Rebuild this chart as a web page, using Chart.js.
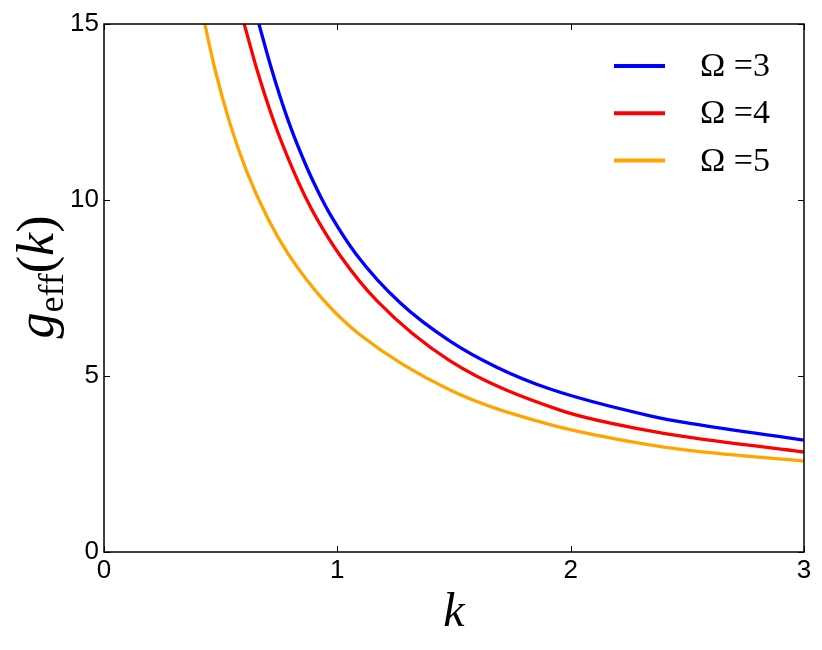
<!DOCTYPE html>
<html>
<head>
<meta charset="utf-8">
<script src="https://cdn.jsdelivr.net/npm/chart.js@4.4.1/dist/chart.umd.min.js"></script>
<style>
  html, body { margin: 0; padding: 0; background: #fff; }
</style>
</head>
<body>
<canvas id="myChart" width="822" height="650"></canvas>
<script>
// values: k on x, g_eff(k) on y
const kOmega3 = [0.664, 0.719, 0.786, 0.869, 0.926, 0.973, 1.083, 1.269, 1.483, 1.683, 1.912, 2.340, 2.526, 3.0];
const gOmega3 = [15, 13.70, 12.32, 10.93, 10.13, 9.55, 8.44, 7.08, 5.99, 5.25, 4.63, 3.87, 3.64, 3.18];

const kOmega4 = [0.601, 0.657, 0.729, 0.811, 0.862, 0.912, 1.011, 1.169, 1.483, 1.954, 2.340, 2.526, 3.0];
const gOmega4 = [15, 13.67, 12.21, 10.84, 10.10, 9.47, 8.43, 7.14, 5.43, 4.03, 3.44, 3.24, 2.84];

const kOmega5 = [0.432, 0.476, 0.54, 0.611, 0.704, 0.790, 0.94, 1.097, 1.483, 1.912, 2.340, 2.526, 3.0];
const gOmega5 = [15, 13.70, 12.17, 10.82, 9.45, 8.46, 7.16, 6.17, 4.60, 3.62, 3.04, 2.87, 2.58];

const seriesLabels = ['Ω =3', 'Ω =4', 'Ω =5'];
const seriesColors = ['#0000ff', '#ff0000', '#ffa500'];

const xTicks = [0, 1, 2, 3];
const yTicks = [0, 5, 10, 15];

const toPoints = (ks, gs) => ks.map((k, i) => ({ x: k, y: gs[i] }));

const tickFont = { family: '"Liberation Sans", Arial, sans-serif', size: 26 };

// box round the plot, inward ticks on all four sides, legend and y title
const framePlugin = {
  id: 'frame',
  afterDraw(chart) {
    const { ctx, chartArea: a, scales } = chart;
    ctx.save();
    ctx.strokeStyle = '#000';
    ctx.lineWidth = 1.5;
    ctx.strokeRect(a.left, a.top, a.right - a.left, a.bottom - a.top);

    ctx.lineWidth = 1;
    const t = 6;
    ctx.beginPath();
    scales.x.ticks.forEach(tk => {
      const px = Math.round(scales.x.getPixelForValue(tk.value)) + 0.5;
      ctx.moveTo(px, a.bottom); ctx.lineTo(px, a.bottom - t);
      ctx.moveTo(px, a.top); ctx.lineTo(px, a.top + t);
    });
    scales.y.ticks.forEach(tk => {
      const py = Math.round(scales.y.getPixelForValue(tk.value)) + 0.5;
      ctx.moveTo(a.left, py); ctx.lineTo(a.left + t, py);
      ctx.moveTo(a.right, py); ctx.lineTo(a.right - t, py);
    });
    ctx.stroke();

    // legend, no frame, top right
    ctx.font = '34px "Liberation Serif", serif';
    ctx.textBaseline = 'middle';
    ctx.textAlign = 'left';
    chart.data.datasets.forEach((ds, i) => {
      const y = a.top + 42 + i * 47.3;
      ctx.strokeStyle = ds.borderColor;
      ctx.lineWidth = 4;
      ctx.beginPath();
      ctx.moveTo(a.right - 190, y);
      ctx.lineTo(a.right - 139, y);
      ctx.stroke();
      ctx.fillStyle = '#000';
      ctx.fillText(ds.label, a.right - 104, y + 1);
    });

    // y title g_eff(k), rotated
    const parts = [
      { s: 'g', f: 'italic 52px "Liberation Serif", serif', dy: 0 },
      { s: 'eff', f: '36px "Liberation Serif", serif', dy: 10 },
      { s: '(', f: '52px "Liberation Serif", serif', dy: 0 },
      { s: 'k', f: 'italic 52px "Liberation Serif", serif', dy: 0 },
      { s: ')', f: '52px "Liberation Serif", serif', dy: 0 }
    ];
    ctx.textBaseline = 'alphabetic';
    let total = 0;
    parts.forEach(p => { ctx.font = p.f; p.w = ctx.measureText(p.s).width; total += p.w; });
    ctx.translate(53, 277);
    ctx.rotate(-Math.PI / 2);
    ctx.fillStyle = '#000';
    let x = -total / 2;
    parts.forEach(p => {
      ctx.font = p.f;
      ctx.fillText(p.s, x, p.dy);
      x += p.w;
    });
    ctx.restore();
  }
};

new Chart(document.getElementById('myChart'), {
  type: 'line',
  data: {
    datasets: [
      { label: seriesLabels[0], data: toPoints(kOmega3, gOmega3), borderColor: seriesColors[0] },
      { label: seriesLabels[1], data: toPoints(kOmega4, gOmega4), borderColor: seriesColors[1] },
      { label: seriesLabels[2], data: toPoints(kOmega5, gOmega5), borderColor: seriesColors[2] }
    ]
  },
  options: {
    responsive: false,
    animation: false,
    devicePixelRatio: 1,
    layout: { padding: { left: 0, right: 18, top: 24, bottom: 0 } },
    elements: {
      line: { borderWidth: 3.3, cubicInterpolationMode: 'monotone', fill: false },
      point: { radius: 0 }
    },
    plugins: {
      legend: { display: false },
      tooltip: { enabled: false }
    },
    scales: {
      x: {
        type: 'linear',
        min: 0,
        max: 3,
        afterBuildTicks: s => { s.ticks = xTicks.map(v => ({ value: v })); },
        afterFit: s => { s.height = 98; },
        grid: { display: false, drawTicks: false, tickLength: 0 },
        border: { display: false },
        ticks: { color: '#000', font: tickFont, padding: 3 },
        title: {
          display: true,
          text: 'k',
          color: '#000',
          font: { family: '"Liberation Serif", serif', style: 'italic', size: 48 },
          padding: { top: 0, bottom: 8 }
        }
      },
      y: {
        type: 'linear',
        min: 0,
        max: 15,
        afterBuildTicks: s => { s.ticks = yTicks.map(v => ({ value: v })); },
        afterFit: s => { s.width = 104; },
        grid: { display: false, drawTicks: false, tickLength: 0 },
        border: { display: false },
        ticks: { color: '#000', font: tickFont, padding: 5 }
      }
    }
  },
  plugins: [framePlugin]
});
</script>
</body>
</html>
